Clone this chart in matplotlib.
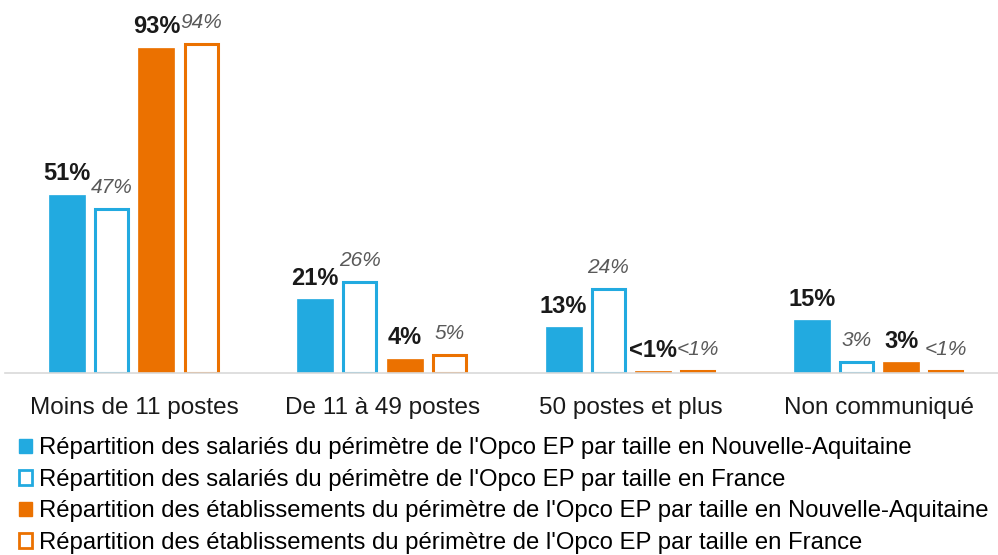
import numpy as np
import matplotlib.pyplot as plt
from matplotlib.patches import Patch

plt.rcParams['font.family'] = ['Liberation Sans', 'DejaVu Sans']

categories = ['Moins de 11 postes', 'De 11 à 49 postes', '50 postes et plus', 'Non communiqué']
sal_na = [51, 21, 13, 15]
sal_fr = [47, 26, 24, 3]
etab_na = [93, 4, 0.5, 3]
etab_fr = [94, 5, 0.5, 0.5]
lab_sal_na = ['51%', '21%', '13%', '15%']
lab_sal_fr = ['47%', '26%', '24%', '3%']
lab_etab_na = ['93%', '4%', '<1%', '3%']
lab_etab_fr = ['94%', '5%', '<1%', '<1%']
legend_labels = [
    "Répartition des salariés du périmètre de l'Opco EP par taille en Nouvelle-Aquitaine",
    "Répartition des salariés du périmètre de l'Opco EP par taille en France",
    "Répartition des établissements du périmètre de l'Opco EP par taille en Nouvelle-Aquitaine",
    "Répartition des établissements du périmètre de l'Opco EP par taille en France",
]

blue = '#22aae0'
orange = '#eb7100'
grey = '#595959'

fig = plt.figure(figsize=(9.98, 5.55), dpi=100)
ax = fig.add_axes([0.005, 0.328, 0.995, 0.672])

x = np.arange(len(categories))
step = 0.18
w = 0.145
offs = [-1.5 * step, -0.5 * step, 0.5 * step, 1.5 * step]

series = [
    (sal_na, lab_sal_na, True, blue),
    (sal_fr, lab_sal_fr, False, blue),
    (etab_na, lab_etab_na, True, orange),
    (etab_fr, lab_etab_fr, False, orange),
]

for i, (vals, labs, filled, col) in enumerate(series):
    pos = x + offs[i]
    if filled:
        ax.bar(pos, vals, w, color=col, edgecolor=col, linewidth=0.5)
    else:
        ax.bar(pos, vals, w - 0.012, facecolor='white', edgecolor=col, linewidth=2.2)
    for p, v, t in zip(pos, vals, labs):
        if filled:
            ax.annotate(t, (p, v), xytext=(0, 10.5), textcoords='offset points',
                        ha='center', va='baseline', fontsize=17, fontweight='bold',
                        color='#1a1a1a')
        else:
            ax.annotate(t, (p, v), xytext=(0, 11.5), textcoords='offset points',
                        ha='center', va='baseline', fontsize=15, fontstyle='italic',
                        color=grey)

ax.set_xlim(-0.52, 3.48)
ax.set_ylim(0, 106.6)
ax.set_yticks([])
ax.set_xticks(x)
ax.set_xticklabels(categories, fontsize=17.5, color='#1a1a1a')
ax.tick_params(axis='x', length=0, pad=17)
for s in ['top', 'right', 'left']:
    ax.spines[s].set_visible(False)
ax.spines['bottom'].set_color('#d9d9d9')
ax.spines['bottom'].set_linewidth(1.2)

handles = [
    Patch(facecolor=blue, edgecolor=blue),
    Patch(facecolor='white', edgecolor=blue, linewidth=2),
    Patch(facecolor=orange, edgecolor=orange),
    Patch(facecolor='white', edgecolor=orange, linewidth=2),
]
fig.legend(handles, legend_labels, loc='upper left', bbox_to_anchor=(0.019, 0.212),
           frameon=False, fontsize=17.2, handlelength=0.55, handleheight=0.55,
           handletextpad=0.3, labelspacing=0.4, borderpad=0, borderaxespad=0)

fig.savefig('out.png', dpi=100)
